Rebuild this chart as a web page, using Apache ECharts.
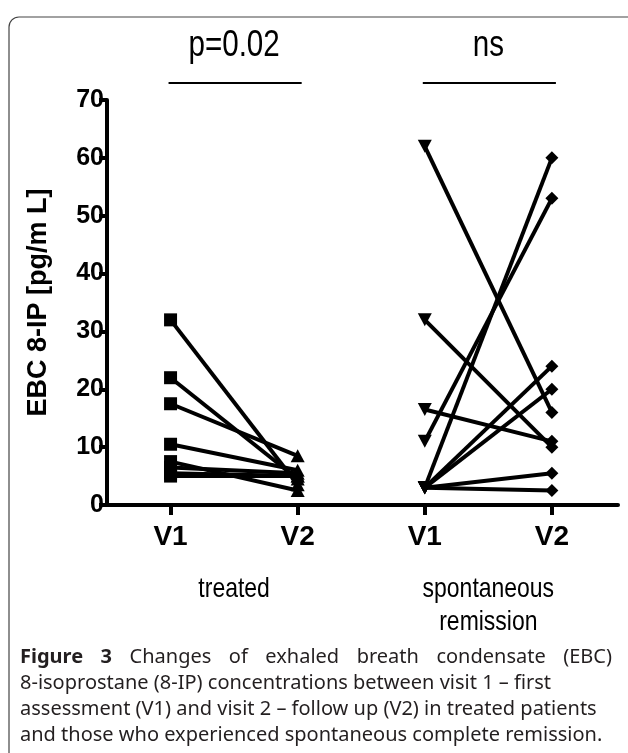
<!DOCTYPE html>
<html>
<head>
<meta charset="utf-8">
<script src="https://cdn.jsdelivr.net/npm/echarts@6/dist/echarts.min.js"></script>
<style>
  html, body { margin: 0; padding: 0; background: #fff; }
  #chart { width: 628px; height: 753px; }
</style>
</head>
<body>
<div id="chart"></div>
<script>
// visits on the x axis, two groups side by side
const visitLabels = ['V1', 'V2', 'V1', 'V2'];
const visitPos = [1, 2, 3, 4];
const groupNames = ['treated', 'spontaneous\nremission'];
const pValues = ['p=0.02', 'ns'];

// paired values, V1 -> V2 per patient
const treatedV1 = [32, 22, 17.5, 10.5, 7.5, 6.5, 5.5, 5];
const treatedV2 = [3.5, 4.5, 8.5, 6, 2.5, 5.5, 5, 5];
const remissionV1 = [62, 32, 16.5, 11, 3, 3, 3, 3, 3];
const remissionV2 = [16, 10, 11, 53, 60, 24, 20, 5.5, 2.5];

const captionLines = [
  'Changes of exhaled breath condensate (EBC)',
  '8-isoprostane (8-IP) concentrations between visit 1 \u2013 first',
  'assessment (V1) and visit 2 \u2013 follow up (V2) in treated patients',
  'and those who experienced spontaneous complete remission.'
];

const arial = "'Liberation Sans', Arial, sans-serif";
const capFont = "'Noto Sans', 'Open Sans', sans-serif";

function pairSeries(v1, v2, x1, x2, sym1, sym2, rot1) {
  return v1.map((a, i) => ({
    type: 'line',
    silent: true,
    animation: false,
    lineStyle: { color: '#000', width: 4 },
    itemStyle: { color: '#000' },
    data: [
      { value: [x1, a], symbol: sym1.type, symbolSize: sym1.size, symbolRotate: rot1 || 0 },
      { value: [x2, v2[i]], symbol: sym2.type, symbolSize: sym2.size }
    ]
  }));
}

const chart = echarts.init(document.getElementById('chart'), null, { renderer: 'canvas' });

const series = [].concat(
  pairSeries(treatedV1, treatedV2, visitPos[0], visitPos[1],
    { type: 'rect', size: 13 }, { type: 'triangle', size: [14, 13] }),
  pairSeries(remissionV1, remissionV2, visitPos[2], visitPos[3],
    { type: 'triangle', size: [14, 13] }, { type: 'diamond', size: 13 }, 180)
);

chart.setOption({
  backgroundColor: '#fff',
  grid: { left: 107, right: 10, top: 100, bottom: 248 },
  xAxis: {
    type: 'value',
    min: 0.5,
    max: 4.52,
    axisLine: { lineStyle: { color: '#000', width: 4 } },
    axisTick: { customValues: visitPos, length: 10, lineStyle: { color: '#000', width: 4 } },
    axisLabel: {
      customValues: visitPos,
      formatter: v => visitLabels[Math.round(v) - 1],
      color: '#000', fontFamily: arial, fontWeight: 'bold', fontSize: 28, margin: 18
    },
    splitLine: { show: false }
  },
  yAxis: {
    type: 'value',
    min: 0,
    max: 70,
    interval: 10,
    name: 'EBC 8-IP [pg/m L]',
    nameLocation: 'middle',
    nameGap: 55,
    nameTextStyle: { color: '#000', fontFamily: arial, fontWeight: 'bold', fontSize: 27 },
    axisLine: { show: true, lineStyle: { color: '#000', width: 4 } },
    axisTick: { show: true, length: 8, lineStyle: { color: '#000', width: 4 } },
    axisLabel: { color: '#000', fontFamily: arial, fontWeight: 'bold', fontSize: 25, margin: 3 },
    splitLine: { show: false }
  },
  series: series
});

// annotations placed from the axis scale
const px = v => chart.convertToPixel({ xAxisIndex: 0 }, v);
const graphics = [
  {
    type: 'rect', silent: true, z: -1,
    shape: { x: 9, y: 17, width: 700, height: 800, r: 10 },
    style: { fill: 'none', stroke: '#444', lineWidth: 1.2 }
  }
];
[[0, 1], [2, 3]].forEach((g, k) => {
  const a = px(visitPos[g[0]]), b = px(visitPos[g[1]]), mid = (a + b) / 2;
  graphics.push({
    type: 'line', silent: true,
    shape: { x1: a - 2, y1: 83, x2: b + 4, y2: 83 },
    style: { stroke: '#000', lineWidth: 2 }
  });
  graphics.push({
    type: 'text', silent: true, x: mid, y: 46, scaleX: 0.8,
    style: { text: pValues[k], fill: '#000', font: '37px ' + arial, align: 'center', verticalAlign: 'middle' }
  });
  graphics.push({
    type: 'text', silent: true, x: mid, y: 573, scaleX: 0.82,
    style: { text: groupNames[k], fill: '#000', font: '28px ' + arial, align: 'center', verticalAlign: 'top', lineHeight: 33 }
  });
});

// caption, first line justified
const ctx = document.createElement('canvas').getContext('2d');
const capLeft = 20, capRight = 612, capSize = 20;
const capY = [657, 683, 709, 735];
const words = ['Figure', '3'].concat(captionLines[0].split(' '));
const widths = words.map((w, i) => {
  ctx.font = (i < 2 ? 'bold ' : '') + capSize + 'px ' + capFont;
  return ctx.measureText(w).width;
});
const gap = (capRight - capLeft - widths.reduce((s, w) => s + w, 0)) / (words.length - 1);
let cx = capLeft;
words.forEach((w, i) => {
  graphics.push({
    type: 'text', silent: true, x: cx, y: capY[0],
    style: { text: w, fill: '#231f20', font: (i < 2 ? 'bold ' : '') + capSize + 'px ' + capFont, verticalAlign: 'middle' }
  });
  cx += widths[i] + gap;
});
captionLines.slice(1).forEach((t, i) => {
  graphics.push({
    type: 'text', silent: true, x: capLeft, y: capY[i + 1],
    style: { text: t, fill: '#231f20', font: capSize + 'px ' + capFont, verticalAlign: 'middle' }
  });
});

chart.setOption({ graphic: graphics });
</script>
</body>
</html>
